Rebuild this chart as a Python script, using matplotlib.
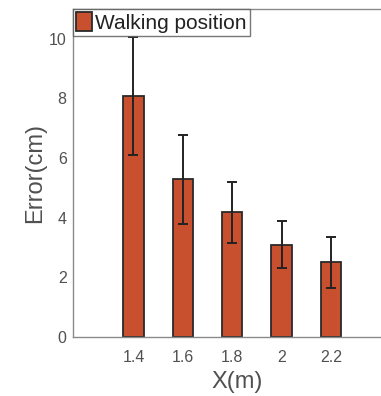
import matplotlib
matplotlib.use("Agg")
import matplotlib.pyplot as plt

categories = [1.4, 1.6, 1.8, 2.0, 2.2]
tick_labels = ["1.4", "1.6", "1.8", "2", "2.2"]
means = [8.07, 5.29, 4.18, 3.10, 2.51]
errors = [1.98, 1.49, 1.03, 0.79, 0.85]
legend_label = "Walking position"

plt.rcParams['font.family'] = ['Liberation Sans', 'DejaVu Sans']

fig = plt.figure(figsize=(3.81, 3.96), dpi=100)
ax_w = 1 - 73/381 + 0.01
ax = fig.add_axes([73/381, 59/396, ax_w, (337-9)/396])

ax.bar(categories, means, width=0.082, color='#C9502E', edgecolor='#2a2a2a',
       linewidth=1.3, label=legend_label, zorder=2)
ax.errorbar(categories, means, yerr=errors, fmt='none', ecolor='#222222',
            elinewidth=1.4, capsize=3.5, capthick=1.4, zorder=3)

ax.set_xlim(1.155, 2.393 + 0.025)
ax.set_ylim(0, 11)
ax.set_xticks(categories)
ax.set_xticklabels(tick_labels)
ax.set_yticks([0, 2, 4, 6, 8, 10])
ax.tick_params(axis='both', length=0, labelsize=11.5, colors='#505050')
ax.tick_params(axis='x', pad=9)
ax.tick_params(axis='y', pad=4.5)

for s in ['left', 'bottom', 'top']:
    ax.spines[s].set_color('#8a8a8a')
    ax.spines[s].set_linewidth(1.0)
ax.spines['right'].set_visible(False)

ax.set_ylabel("Error(cm)", fontsize=17, color='#505050')
ax.yaxis.set_label_coords(-(73 - 46) / 381 / ax_w, 0.5)
ax.set_xlabel("X(m)", fontsize=17, color='#505050')
ax.xaxis.set_label_coords(((237 - 73) / 381) / ax_w, -0.104)

leg = ax.legend(loc='upper left', fontsize=15, frameon=True, fancybox=False,
                borderaxespad=0, handlelength=0.75, handleheight=1.0,
                handletextpad=0.15, borderpad=0.15)
leg.get_frame().set_edgecolor('#555555')
leg.get_frame().set_linewidth(1.0)
for t in leg.get_texts():
    t.set_color('#222222')

fig.savefig("out.png", dpi=100)
